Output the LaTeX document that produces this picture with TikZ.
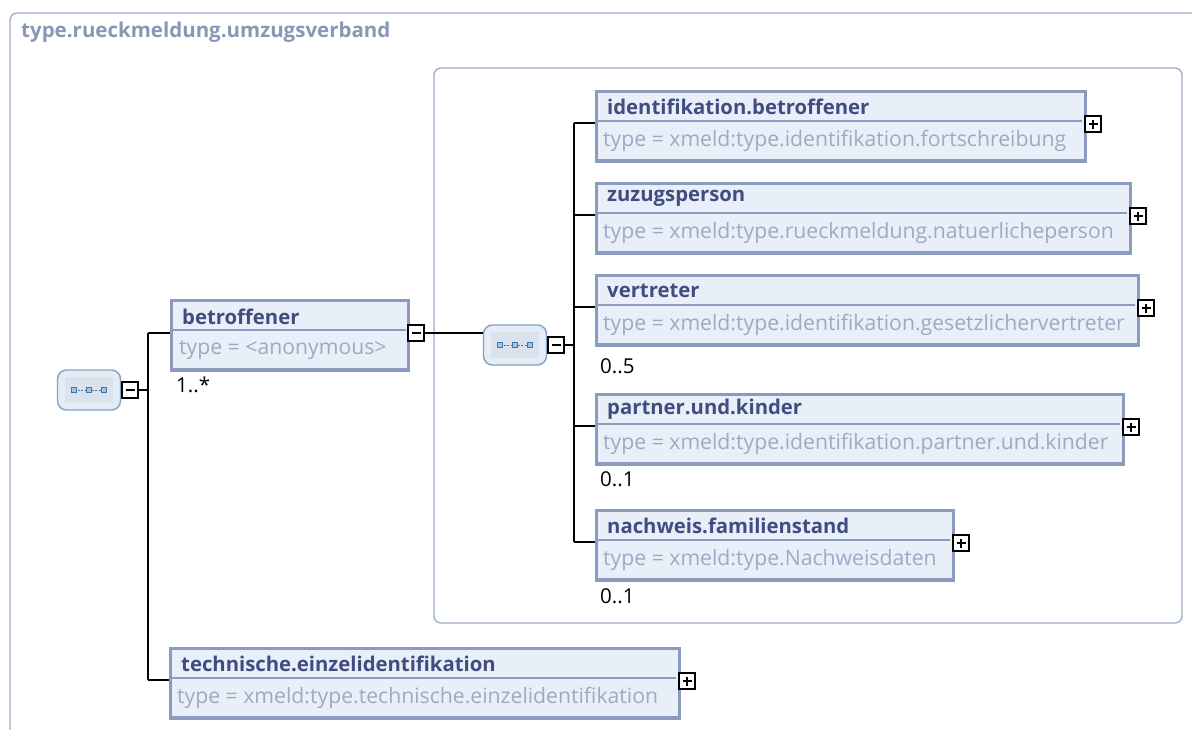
\documentclass[tikz,border=0pt]{standalone}
\usepackage{fontspec}
\setmainfont{Open Sans}
\definecolor{frame}{HTML}{9AAAC6}
\definecolor{eborder}{HTML}{8A9BBF}
\definecolor{efill}{HTML}{E9EFF8}
\definecolor{etitle}{HTML}{3F4D80}
\definecolor{etype}{HTML}{9FA9C2}
\definecolor{cfill}{HTML}{E4ECF6}
\definecolor{cborder}{HTML}{86A0C2}
\definecolor{cicon}{HTML}{3C78B0}
\definecolor{ctitle}{HTML}{8797B6}
\tikzset{
  elembox/.style={draw=eborder, fill=efill, line width=3.5pt, inner sep=0pt, anchor=north west},
  divider/.style={draw=eborder, line width=1.2pt},
  etitletext/.style={anchor=west, inner sep=0pt, text=etitle, font=\fontsize{20.3}{22}\selectfont\bfseries},
  etypetext/.style={anchor=west, inner sep=0pt, text=etype, font=\fontsize{21.2}{23}\selectfont},
  mult/.style={anchor=west, inner sep=0pt, text=black, font=\fontsize{20.5}{22}\selectfont},
  pm/.style={draw=black, fill=white, line width=1.5pt, minimum width=16pt, minimum height=16pt, inner sep=0pt},
  conn/.style={draw=black, line width=1.6pt},
  compbox/.style={draw=cborder, fill=cfill, line width=1.4pt, rounded corners=9pt, minimum width=63pt, minimum height=40pt, inner sep=0pt},
  framebox/.style={draw=frame, line width=1.3pt, rounded corners=7pt},
}
\newcommand{\plusmark}[1]{%
  \draw[black, line width=1.4pt] ([xshift=-4.5pt]#1.center) -- ([xshift=4.5pt]#1.center);
  \draw[black, line width=1.4pt] ([yshift=-4.5pt]#1.center) -- ([yshift=4.5pt]#1.center);}
\newcommand{\minusmark}[1]{%
  \draw[black, line width=1.4pt] ([xshift=-4.5pt]#1.center) -- ([xshift=4.5pt]#1.center);}
\newcommand{\compicon}[1]{%
  \fill[black!4!cfill] ([xshift=-24pt,yshift=-13pt]#1.center) rectangle ([xshift=24pt,yshift=13pt]#1.center);
  \draw[cicon, line width=1pt, dash pattern=on 2pt off 1.5pt] ([xshift=-15pt]#1.center) -- ([xshift=15pt]#1.center);
  \foreach \dx in {-15,0,15} {
    \draw[cicon, fill=cicon!45!white, line width=1pt] ([xshift=\dx pt-2.5pt, yshift=-2.5pt]#1.center) rectangle ([xshift=\dx pt+2.5pt, yshift=2.5pt]#1.center);
  }}
% name, x, y(top), width, title, type
\newcommand{\elem}[6]{%
  \node[elembox, minimum width=#4 pt, minimum height=69.5pt] (#1) at (#2+1.75,#3+1.75) {};
  \draw[divider] (#2+3,#3+33) -- (#2+#4,#3+33);
  \node[etitletext] (#1t) at (#2+14,#3+18.5) {#5};
  \node[etypetext] (#1y) at (#2+10,#3+53) {#6};
  \node[pm] (#1p) at (#2+#4+11,#3+36) {};
  \plusmark{#1p}
}
\begin{document}
\begin{tikzpicture}[x=1pt,y=-1pt]
\useasboundingbox (0,0) rectangle (1192,729);
% outer frame
\draw[framebox] (10,13) rectangle (1215,760);
\node[anchor=west, inner sep=0pt, text=ctitle, font=\fontsize{20.5}{22}\selectfont\bfseries] (title) at (21,32) {type.rueckmeldung.umzugsverband};
% inner sequence frame
\draw[framebox] (434,68) rectangle (1182,623);

% left compositor
\node[compbox] (c1) at (89,390) {};
\compicon{c1}
\node[pm] (c1m) at (130,390) {};
\minusmark{c1m}
\coordinate (v1top) at (148,333);
\coordinate (v1bot) at (148,680);
\coordinate (v1mid) at (148,390);

% betroffener
\node[elembox, minimum width=237pt, minimum height=69.5pt] (bet) at (169.75,298.75) {};
\draw[divider] (171,330) -- (406,330);
\node[etitletext] (bett) at (182,317) {betroffener};
\node[etypetext] (bety) at (179,350) {type = <anonymous>};
\node[pm] (betm) at (416,333) {};
\minusmark{betm}
\node[mult] (m1) at (176,385) {1..*};

% second compositor
\node[compbox] (c2) at (515,345) {};
\compicon{c2}
\node[pm] (c2m) at (556,345) {};
\minusmark{c2m}
\coordinate (v2top) at (574,123);
\coordinate (v2bot) at (574,542);
\coordinate (v2mid) at (574,345);

% children
\elem{ide}{593}{88}{489}{identifikation.betroffener}{type = xmeld:type.identifikation.fortschreibung}
\elem{zuz}{593}{180}{534}{zuzugsperson}{type = xmeld:type.rueckmeldung.natuerlicheperson}
\elem{ver}{593}{272}{542}{vertreter}{type = xmeld:type.identifikation.gesetzlichervertreter}
\elem{par}{593}{391}{527}{partner.und.kinder}{type = xmeld:type.identifikation.partner.und.kinder}
\elem{nac}{593}{507}{357}{nachweis.familienstand}{type = xmeld:type.Nachweisdaten}
\elem{tec}{167}{645}{509}{technische.einzelidentifikation}{type = xmeld:type.technische.einzelidentifikation}

\node[mult] (m5) at (600,366) {0..5};
\node[mult] (m6) at (600,479) {0..1};
\node[mult] (m7) at (600,596) {0..1};

% connectors
\draw[conn] (c1m.east) -- (v1mid);
\draw[conn] (v1top) -- (v1bot);
\draw[conn] (v1top) -- (bet.west |- v1top);
\draw[conn] (v1bot) -- (tec.west |- v1bot);
\draw[conn] (betm.east) -- (c2.west |- betm.east);
\draw[conn] (c2m.east) -- (v2mid);
\draw[conn] (v2top) -- (v2bot);
\draw[conn] (v2top) -- (ide.west |- v2top);
\draw[conn] (574,215) -- (zuz.west |- 574,215);
\draw[conn] (574,307) -- (ver.west |- 574,307);
\draw[conn] (574,426) -- (par.west |- 574,426);
\draw[conn] (v2bot) -- (nac.west |- v2bot);
\end{tikzpicture}
\end{document}
